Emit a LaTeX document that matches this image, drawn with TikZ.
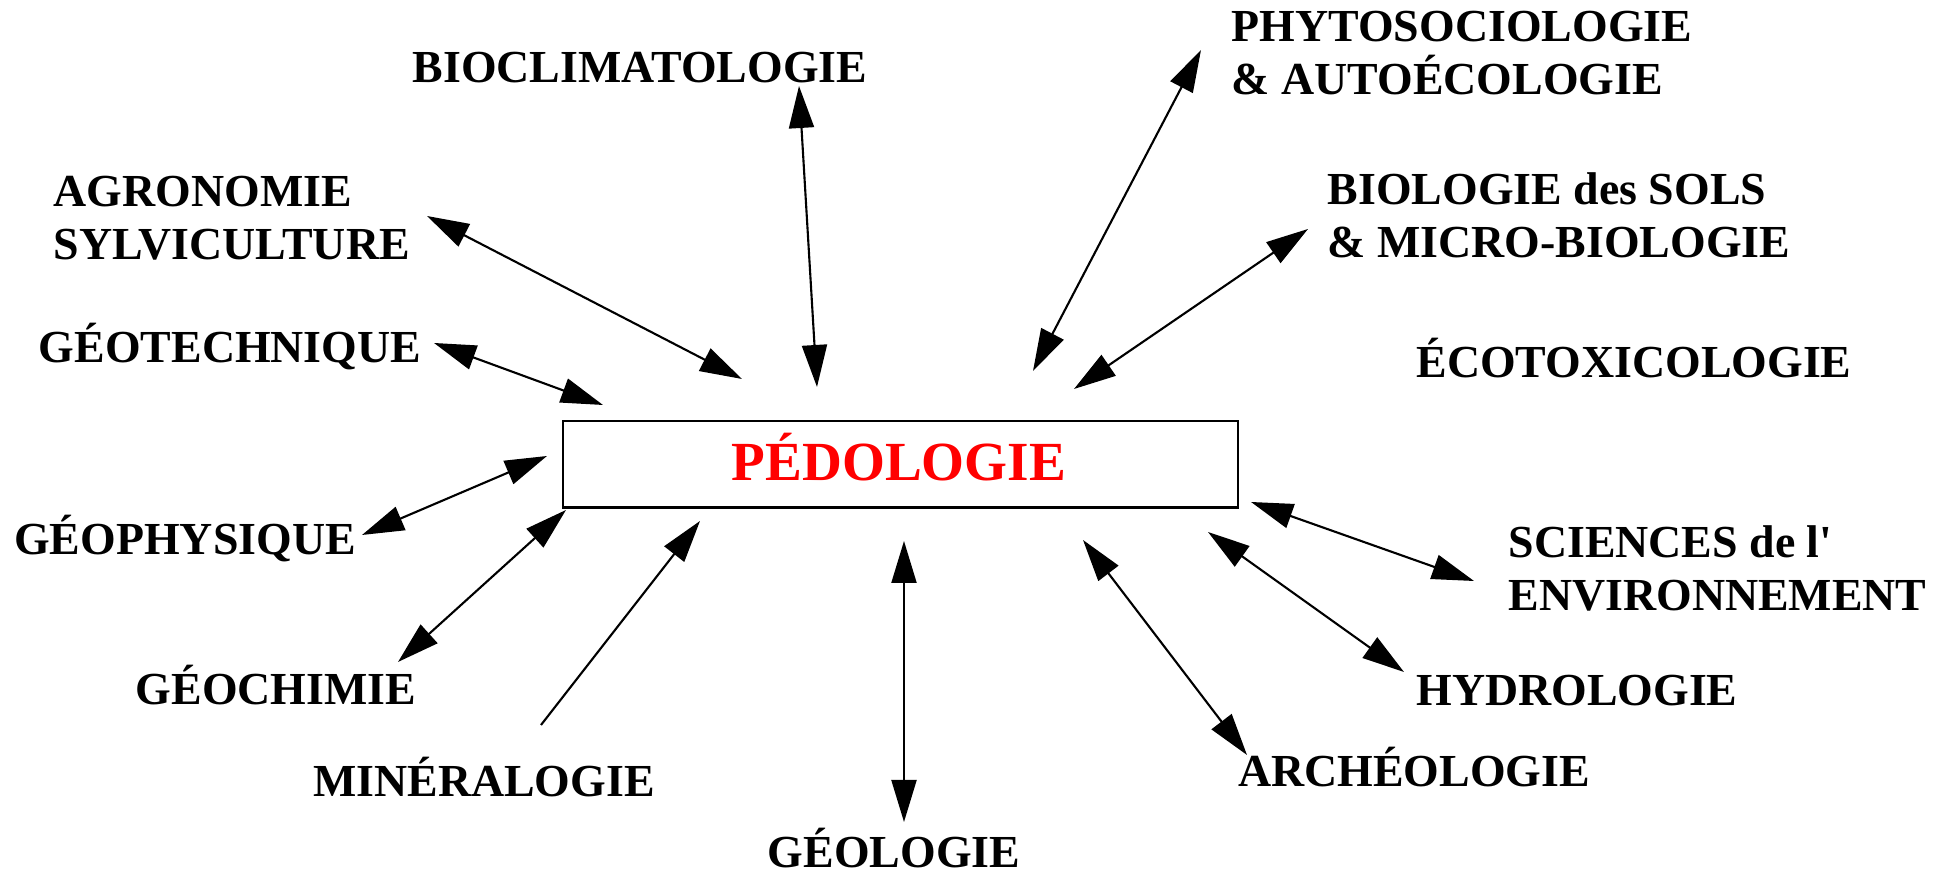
\documentclass[tikz,border=0pt]{standalone}
\usepackage{fontspec}
\setmainfont{Liberation Serif}
\usepackage{tikz}
\usetikzlibrary{arrows.meta}

\begin{document}
\begin{tikzpicture}[
	lbl/.style={inner sep=0pt, align=left, font=\fontsize{13.05}{15.1}\selectfont\bfseries},
	link/.style={line width=0.6pt, {Triangle[length=4.2mm,width=2.5mm]}-{Triangle[length=4.2mm,width=2.5mm]}},
	oneway/.style={line width=0.6pt, -{Triangle[length=4.2mm,width=2.5mm]}}
	]
	\useasboundingbox (0,0) rectangle (19.5,8.75);
	\node[draw, line width=0.8pt, minimum width=6.75cm, minimum height=0.865cm, inner sep=0pt] (box) at (9.005,4.107) {};
	\node[anchor=base, text=red, inner sep=0pt, font=\fontsize{15.7}{18}\selectfont\bfseries] (pedo) at (8.99,3.94) {PÉDOLOGIE};
	\node[lbl, anchor=base] (bioclim) at (6.40,7.92) {BIOCLIMATOLOGIE};
	\node[lbl, anchor=west] (agro) at (0.53,6.565) {AGRONOMIE\\SYLVICULTURE};
	\node[lbl, anchor=base] (geotech) at (2.30,5.12) {GÉOTECHNIQUE};
	\node[lbl, anchor=base] (geophys) at (1.85,3.20) {GÉOPHYSIQUE};
	\node[lbl, anchor=base] (geochim) at (2.76,1.70) {GÉOCHIMIE};
	\node[lbl, anchor=base] (mineral) at (4.84,0.78) {MINÉRALOGIE};
	\node[lbl, anchor=base] (geol) at (8.94,0.07) {GÉOLOGIE};
	\node[lbl, anchor=base] (archeo) at (14.14,0.88) {ARCHÉOLOGIE};
	\node[lbl, anchor=base] (hydro) at (15.77,1.69) {HYDROLOGIE};
	\node[lbl, anchor=west] (envir) at (15.08,3.07) {SCIENCES de l\textquotesingle\\ENVIRONNEMENT};
	\node[lbl, anchor=base] (ecotox) at (16.34,4.97) {ÉCOTOXICOLOGIE};
	\node[lbl, anchor=west] (biosol) at (13.27,6.595) {BIOLOGIE des SOLS\\\& MICRO-BIOLOGIE};
	\node[lbl, anchor=west] (phyto) at (12.31,8.215) {PHYTOSOCIOLOGIE\\\& AUTOÉCOLOGIE};
	\coordinate (bioclimA) at (7.99,7.89);
	\coordinate (bioclimB) at (8.17,4.88);
	\coordinate (agroA) at (4.27,6.59);
	\coordinate (agroB) at (7.42,4.96);
	\coordinate (geotechA) at (4.34,5.32);
	\coordinate (geotechB) at (6.03,4.70);
	\coordinate (geophysA) at (3.62,3.40);
	\coordinate (geophysB) at (5.47,4.19);
	\coordinate (geochimA) at (3.98,2.13);
	\coordinate (geochimB) at (5.66,3.65);
	\coordinate (mineralA) at (5.41,1.50);
	\coordinate (mineralB) at (7.00,3.54);
	\coordinate (geolA) at (9.04,3.34);
	\coordinate (geolB) at (9.04,0.53);
	\coordinate (archeoA) at (10.83,3.35);
	\coordinate (archeoB) at (12.47,1.20);
	\coordinate (hydroA) at (12.08,3.43);
	\coordinate (hydroB) at (14.04,2.03);
	\coordinate (envirA) at (12.51,3.73);
	\coordinate (envirB) at (14.74,2.94);
	\coordinate (biosolA) at (13.08,6.46);
	\coordinate (biosolB) at (10.74,4.86);
	\coordinate (phytoA) at (12.01,8.25);
	\coordinate (phytoB) at (10.33,5.04);
	\draw[link] (bioclimA) -- (bioclimB);
	\draw[link] (agroA) -- (agroB);
	\draw[link] (geotechA) -- (geotechB);
	\draw[link] (geophysA) -- (geophysB);
	\draw[link] (geochimA) -- (geochimB);
	\draw[oneway] (mineralA) -- (mineralB);
	\draw[link] (geolA) -- (geolB);
	\draw[link] (archeoA) -- (archeoB);
	\draw[link] (hydroA) -- (hydroB);
	\draw[link] (envirA) -- (envirB);
	\draw[link] (biosolA) -- (biosolB);
	\draw[link] (phytoA) -- (phytoB);
\end{tikzpicture}
\end{document}
